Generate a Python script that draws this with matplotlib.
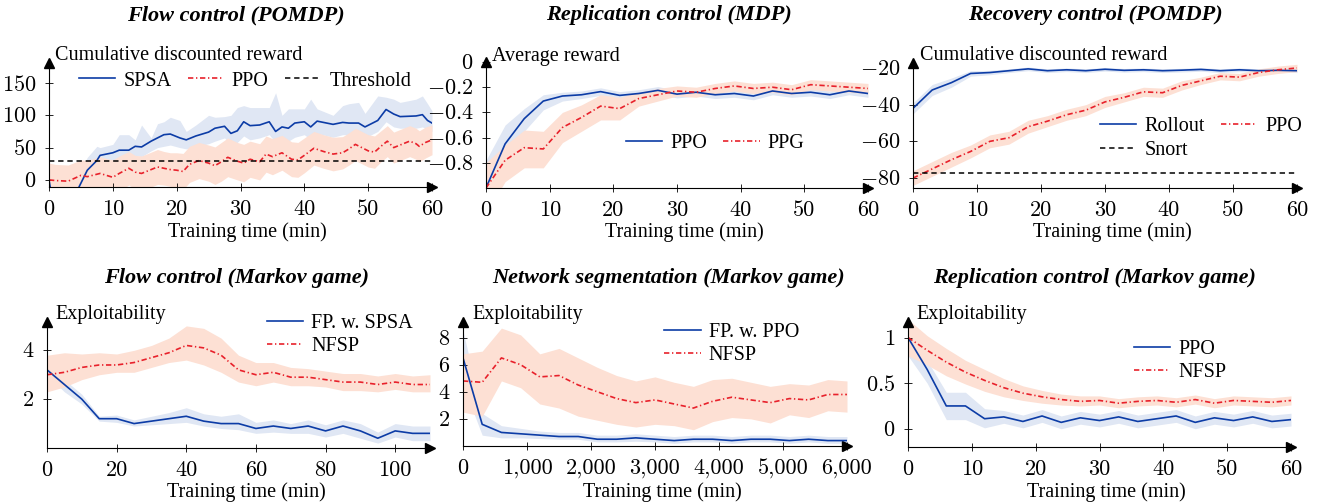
import matplotlib
matplotlib.use("Agg")
import numpy as np
import matplotlib.pyplot as plt
from matplotlib.ticker import FuncFormatter

plt.rcParams['font.family'] = ['Liberation Serif', 'DejaVu Serif']
plt.rcParams['mathtext.fontset'] = 'cm'

# ---------------- data ----------------
# Flow control (POMDP)
spsa_x = [0, 1, 3, 4.7, 6, 7.5, 8, 10, 11, 12.5, 13.5, 14.5, 16, 17, 18, 19, 20.5, 21.5, 23, 25,
          26, 27.5, 28.5, 29.5, 30.5, 31.5, 33, 34.5, 35.5, 36.5, 37.5, 38.5, 40, 41, 42, 44.5,
          46, 47, 48.5, 49.5, 51.5, 52.8, 54, 55, 57.5, 58.5, 59.3, 60]
spsa_y = [0, -60, -45, -11, 15, 30, 38, 42, 46, 46, 52, 51, 60, 65, 70, 71, 65, 62, 68, 74,
          80, 83, 72, 76, 90, 84, 85, 90, 75, 82, 80, 88, 90, 82, 91, 86, 89, 88, 88, 82,
          92, 109, 102, 98, 99, 101, 92, 88]
spsa_hi = [25, -30, -20, 10, 35, 52, 50, 55, 70, 70, 62, 85, 65, 87, 90, 97, 92, 75, 85, 100,
           97, 98, 100, 112, 115, 112, 112, 112, 135, 100, 110, 110, 110, 125, 110, 100, 115,
           118, 120, 103, 130, 128, 125, 120, 125, 130, 118, 107]
spsa_lo = [-25, -90, -75, -35, -5, 10, 22, 28, 30, 32, 38, 36, 45, 50, 52, 54, 50, 48, 52, 56,
           60, 65, 55, 58, 68, 62, 65, 70, 58, 62, 60, 66, 70, 62, 72, 66, 70, 70, 70, 65,
           75, 90, 82, 80, 80, 82, 78, 75]
fc_ppo_x = [0, 1, 3, 5, 6, 8, 9, 10, 11, 12.5, 13.5, 14.5, 16, 17, 18, 19, 20, 21, 22, 23.5,
            25, 26, 27, 28, 29.5, 30.5, 31.5, 33, 34, 35, 36.5, 38, 39, 40, 41.5, 43, 44.5,
            46, 47, 48, 49, 50, 51, 52, 53, 54, 55, 56.5, 57.5, 58, 59, 60]
fc_ppo_y = [0, -1, -2, 7, 5, 10, 7, 4, 10, 18, 12, 10, 16, 20, 18, 16, 15, 13, 24, 30,
            26, 22, 28, 35, 29, 26, 32, 28, 40, 36, 42, 32, 31, 38, 49, 44, 40, 42, 48, 55,
            50, 45, 43, 52, 60, 50, 54, 60, 56, 52, 58, 62]
fc_ppo_spread = [26, 25, 25, 24, 25, 26, 26, 27, 27, 26, 26, 27, 27, 27, 26, 26, 27, 28, 28, 28,
                 28, 29, 30, 30, 29, 29, 28, 28, 28, 28, 27, 27, 27, 27, 26, 26, 26, 25, 25, 25,
                 25, 25, 25, 24, 24, 24, 24, 24, 24, 24, 24, 23]
threshold = 30

# Replication control (MDP)
t3 = [0, 3, 6, 9, 12, 15, 18, 21, 24, 27, 30, 33, 36, 39, 42, 45, 48, 51, 54, 57, 60]
rep_ppo = [-1.0, -0.65, -0.45, -0.31, -0.27, -0.26, -0.235, -0.265, -0.25, -0.225, -0.255,
           -0.24, -0.26, -0.25, -0.27, -0.23, -0.25, -0.24, -0.26, -0.23, -0.25]
rep_ppo_lo = [-1.2, -0.8, -0.55, -0.38, -0.31, -0.29, -0.265, -0.295, -0.28, -0.255, -0.285,
              -0.27, -0.29, -0.28, -0.3, -0.26, -0.28, -0.27, -0.29, -0.26, -0.28]
rep_ppo_hi = [-0.78, -0.5, -0.37, -0.26, -0.24, -0.23, -0.205, -0.235, -0.22, -0.195, -0.225,
              -0.21, -0.23, -0.22, -0.24, -0.2, -0.22, -0.21, -0.23, -0.2, -0.22]
rep_ppg = [-1.0, -0.78, -0.68, -0.69, -0.52, -0.44, -0.35, -0.37, -0.29, -0.26, -0.23, -0.24,
           -0.21, -0.19, -0.21, -0.2, -0.22, -0.18, -0.19, -0.2, -0.21]
rep_ppg_lo = [-1.2, -0.95, -0.84, -0.84, -0.64, -0.55, -0.46, -0.46, -0.35, -0.31, -0.27,
              -0.28, -0.25, -0.23, -0.25, -0.24, -0.26, -0.22, -0.23, -0.24, -0.25]
rep_ppg_hi = [-0.8, -0.66, -0.54, -0.55, -0.4, -0.34, -0.26, -0.28, -0.24, -0.21, -0.19, -0.2,
              -0.17, -0.15, -0.17, -0.16, -0.18, -0.14, -0.15, -0.16, -0.17]

# Recovery control (POMDP)
rec_rollout = [-42, -32, -28, -23, -22.5, -21.5, -20.5, -21.5, -21, -21.5, -20.7, -21.3, -21,
               -21.5, -21.2, -20.8, -21.5, -21, -21.5, -21.3, -21.5]
rec_rollout_lo = [-45, -35, -30.5, -24.5, -23.7, -22.5, -21.5, -22.5, -22, -22.5, -21.7, -22.3,
                  -22, -22.5, -22.2, -21.8, -22.5, -22, -22.5, -22.3, -22.5]
rec_rollout_hi = [-39, -29, -25.5, -21.5, -21.3, -20.5, -19.5, -20.5, -20, -20.5, -19.7, -20.3,
                  -20, -20.5, -20.2, -19.8, -20.5, -20, -20.5, -20.3, -20.5]
rec_ppo = [-80, -75, -70, -65.5, -60, -58, -52, -49, -45.5, -43, -38.5, -36, -33, -33.5, -29.5,
           -27, -24.5, -25, -22.5, -21, -20]
rec_ppo_lo = [-84, -79, -74, -69, -63.5, -61.5, -55.5, -52, -48.5, -46, -41.5, -38.5, -35.5,
              -36, -32, -29, -26.5, -27, -24.5, -23, -22]
rec_ppo_hi = [-76, -71, -66, -62, -56.5, -54.5, -48.5, -46, -42.5, -40, -35.5, -33.5, -30.5,
              -31, -27, -25, -22.5, -23, -20.5, -19, -18]
snort = -77

# Flow control (Markov game)
t5 = [0, 5, 10, 15, 20, 25, 30, 35, 40, 45, 50, 55, 60, 65, 70, 75, 80, 85, 90, 95, 100, 105, 110]
fg_fp = [3.2, 2.6, 2.0, 1.2, 1.2, 1.0, 1.1, 1.2, 1.3, 1.1, 1.0, 1.0, 0.8, 0.9, 0.8, 0.9, 0.7,
         0.9, 0.7, 0.4, 0.7, 0.6, 0.6]
fg_fp_lo = [3.0, 2.3, 1.8, 1.1, 1.05, 0.9, 0.95, 1.0, 1.05, 0.9, 0.8, 0.75, 0.6, 0.65, 0.6,
            0.6, 0.45, 0.6, 0.4, 0.2, 0.45, 0.3, 0.3]
fg_fp_hi = [3.4, 2.8, 2.2, 1.3, 1.35, 1.15, 1.3, 1.45, 1.65, 1.4, 1.3, 1.4, 1.05, 1.15, 1.0,
            1.15, 0.95, 1.15, 1.0, 0.65, 1.0, 0.9, 0.9]
fg_nfsp = [3.0, 3.1, 3.3, 3.4, 3.4, 3.5, 3.7, 3.9, 4.2, 4.1, 3.8, 3.2, 3.0, 3.1, 2.9, 2.9, 2.8,
           2.7, 2.7, 2.6, 2.7, 2.6, 2.6]
fg_nfsp_lo = [2.3, 2.5, 2.8, 3.0, 3.1, 3.1, 3.3, 3.5, 3.6, 3.4, 3.1, 2.7, 2.55, 2.7, 2.55,
              2.55, 2.5, 2.35, 2.35, 2.3, 2.4, 2.3, 2.3]
fg_nfsp_hi = [3.8, 3.9, 3.85, 3.9, 3.85, 4.0, 4.2, 4.5, 5.0, 4.9, 4.5, 3.8, 3.5, 3.5, 3.3,
              3.25, 3.15, 3.05, 3.05, 2.95, 3.05, 2.95, 3.0]

# Network segmentation (Markov game)
t300 = [0, 300, 600, 900, 1200, 1500, 1800, 2100, 2400, 2700, 3000, 3300, 3600, 3900, 4200,
        4500, 4800, 5100, 5400, 5700, 6000]
ns_fp = [6.5, 1.6, 1.0, 0.9, 0.8, 0.7, 0.7, 0.5, 0.5, 0.6, 0.5, 0.4, 0.5, 0.5, 0.4, 0.5, 0.5,
         0.4, 0.5, 0.4, 0.4]
ns_fp_lo = [4.5, 0.8, 0.6, 0.6, 0.55, 0.5, 0.5, 0.3, 0.3, 0.35, 0.3, 0.2, 0.3, 0.3, 0.2, 0.3,
            0.3, 0.2, 0.3, 0.2, 0.2]
ns_fp_hi = [8.5, 2.4, 1.5, 1.3, 1.1, 1.0, 1.0, 0.8, 0.8, 0.9, 0.8, 0.7, 0.8, 0.8, 0.7, 0.8,
            0.8, 0.7, 0.8, 0.7, 0.7]
ns_nfsp = [4.8, 4.7, 6.5, 6.0, 5.1, 5.2, 4.5, 4.0, 3.5, 3.2, 3.4, 3.1, 2.8, 3.3, 3.6, 3.4, 3.2,
           3.5, 3.4, 3.8, 3.8]
ns_nfsp_lo = [2.5, 2.2, 4.8, 4.3, 3.1, 2.8, 2.2, 1.9, 1.6, 1.4, 1.6, 1.5, 1.2, 1.8, 2.1, 2.0,
              1.7, 2.3, 2.1, 2.6, 2.5]
ns_nfsp_hi = [6.8, 7.0, 8.7, 8.2, 6.8, 7.2, 6.5, 5.8, 5.2, 4.8, 5.1, 4.7, 4.4, 4.9, 5.0, 4.7,
              4.4, 4.6, 4.5, 4.9, 4.8]

# Replication control (Markov game)
rm_ppo = [1.0, 0.65, 0.25, 0.25, 0.11, 0.13, 0.08, 0.14, 0.07, 0.12, 0.09, 0.13, 0.08, 0.11,
          0.14, 0.07, 0.12, 0.09, 0.13, 0.08, 0.1]
rm_ppo_lo = [0.8, 0.5, 0.1, 0.1, 0.01, 0.06, 0.01, 0.07, 0.0, 0.05, 0.02, 0.06, 0.01, 0.04,
             0.07, 0.0, 0.05, 0.02, 0.06, 0.01, 0.03]
rm_ppo_hi = [1.0, 0.75, 0.4, 0.4, 0.22, 0.2, 0.15, 0.21, 0.14, 0.19, 0.16, 0.2, 0.15, 0.18,
             0.21, 0.14, 0.19, 0.16, 0.2, 0.15, 0.17]
rm_nfsp = [1.0, 0.86, 0.73, 0.62, 0.53, 0.45, 0.39, 0.35, 0.32, 0.3, 0.31, 0.28, 0.3, 0.31,
           0.29, 0.32, 0.28, 0.31, 0.3, 0.29, 0.31]
rm_nfsp_lo = [0.8, 0.7, 0.58, 0.49, 0.41, 0.35, 0.31, 0.28, 0.26, 0.25, 0.26, 0.23, 0.25, 0.26,
              0.24, 0.27, 0.23, 0.26, 0.25, 0.24, 0.26]
rm_nfsp_hi = [1.2, 1.02, 0.88, 0.75, 0.65, 0.55, 0.47, 0.42, 0.38, 0.36, 0.36, 0.33, 0.35,
              0.36, 0.34, 0.37, 0.33, 0.36, 0.35, 0.34, 0.36]

# ---------------- style ----------------
BLUE = '#0c3ca6'
RED = '#e8212b'
BLUE_BAND = '#e0e7f4'
RED_BAND = '#fde0d4'
DASHDOT = (0, (3.2, 1.6, 0.8, 1.6))
DASHED = (0, (3.5, 2.5))
FS = 14.5
TICK_FS = 16

W, H = 1320, 503
fig = plt.figure(figsize=(W / 100, H / 100), dpi=100)


def add_panel(x0, x1, y0, y1, xlim, ylim, xticks, yticks, comma=False):
    ax = fig.add_axes([x0 / W, 1 - y1 / H, (x1 - x0) / W, (y1 - y0) / H])
    ax.set_xlim(xlim)
    ax.set_ylim(ylim)
    ax.spines['top'].set_visible(False)
    ax.spines['right'].set_visible(False)
    for s in ('left', 'bottom'):
        ax.spines[s].set_linewidth(0.8)
    # x tick labels in Computer Modern (no minus signs needed there)
    xlabels = [f'{int(v):,}' if comma else f'{v:g}' for v in xticks]
    ax.set_xticks(xticks, labels=xlabels, fontfamily='cmr10')
    ax.set_yticks(yticks)
    ax.yaxis.set_major_formatter(FuncFormatter(lambda v, p: f'${v:g}$'))
    ax.tick_params(direction='inout', length=6, width=0.6, labelsize=TICK_FS, pad=6)
    ax.plot(1, 0, marker='>', color='k', ms=7, transform=ax.transAxes, clip_on=False)
    ax.plot(0, 1, marker='^', color='k', ms=7, transform=ax.transAxes, clip_on=False)
    return ax


def ftext(x, y, s, **kw):
    fig.text(x / W, 1 - y / H, s, **kw)


def title(x, y, s):
    ftext(x, y, s, ha='center', va='center', fontsize=16, fontweight='bold', fontstyle='italic')


def legend(ax, handles, labels, cx, cy, ncol=1, cs=0.8):
    ax.legend(handles, labels, loc='center', bbox_to_anchor=(cx, cy), ncol=ncol, frameon=False,
              fontsize=FS, handlelength=1.8, handletextpad=0.4, columnspacing=cs,
              labelspacing=0.2, borderpad=0, borderaxespad=0)


# Panel 1: Flow control (POMDP)
ax = add_panel(49, 432, 63, 187, (0, 60), (-11, 181), [0, 10, 20, 30, 40, 50, 60], [0, 50, 100, 150])
ax.fill_between(spsa_x, spsa_lo, spsa_hi, color=BLUE_BAND, lw=0)
y = np.array(fc_ppo_y)
s = np.array(fc_ppo_spread)
ax.fill_between(fc_ppo_x, y - s, y + s, color=RED_BAND, lw=0)
l1, = ax.plot(spsa_x, spsa_y, color=BLUE, lw=1.2)
l2, = ax.plot(fc_ppo_x, fc_ppo_y, color=RED, lw=1.2, ls=DASHDOT)
l3 = ax.axhline(threshold, color='k', lw=1.1, ls=DASHED)
legend(ax, [l1, l2, l3], ['SPSA', 'PPO', 'Threshold'], 0.512, 0.855, ncol=3)
title(236, 15, 'Flow control (POMDP)')
ftext(55, 56, 'Cumulative discounted reward', ha='left', va='center', fontsize=FS)
ftext(247, 232, 'Training time (min)', ha='center', va='center', fontsize=FS)

# Panel 2: Replication control (MDP)
ax = add_panel(486, 868, 62, 188, (0, 60), (-1.0, 0.0), [0, 10, 20, 30, 40, 50, 60],
               [-0.8, -0.6, -0.4, -0.2, 0])
ax.fill_between(t3, rep_ppo_lo, rep_ppo_hi, color=BLUE_BAND, lw=0)
ax.fill_between(t3, rep_ppg_lo, rep_ppg_hi, color=RED_BAND, lw=0)
l1, = ax.plot(t3, rep_ppo, color=BLUE, lw=1.2)
l2, = ax.plot(t3, rep_ppg, color=RED, lw=1.2, ls=DASHDOT)
legend(ax, [l1, l2], ['PPO', 'PPG'], 0.60, 0.357, ncol=2)
title(669, 15, 'Replication control (MDP)')
ftext(492, 56, 'Average reward', ha='left', va='center', fontsize=FS)
ftext(684, 232, 'Training time (min)', ha='center', va='center', fontsize=FS)

# Panel 3: Recovery control (POMDP)
ax = add_panel(913, 1297, 63, 188, (0, 60), (-85.4, -17.3), [0, 10, 20, 30, 40, 50, 60],
               [-80, -60, -40, -20])
ax.fill_between(t3, rec_rollout_lo, rec_rollout_hi, color=BLUE_BAND, lw=0)
ax.fill_between(t3, rec_ppo_lo, rec_ppo_hi, color=RED_BAND, lw=0)
l1, = ax.plot(t3, rec_rollout, color=BLUE, lw=1.2)
l2, = ax.plot(t3, rec_ppo, color=RED, lw=1.2, ls=DASHDOT)
l3 = ax.axhline(snort, color='k', lw=1.1, ls=DASHED)
legend(ax, [l1, l3, l2], ['Rollout', 'Snort', 'PPO'], 0.75, 0.396, ncol=2)
title(1095, 15, 'Recovery control (POMDP)')
ftext(920, 56, 'Cumulative discounted reward', ha='left', va='center', fontsize=FS)
ftext(1112, 232, 'Training time (min)', ha='center', va='center', fontsize=FS)

# Panel 4: Flow control (Markov game)
ax = add_panel(47, 430, 322, 448, (0, 110), (0, 5.16), [0, 20, 40, 60, 80, 100], [2, 4])
ax.fill_between(t5, fg_fp_lo, fg_fp_hi, color=BLUE_BAND, lw=0)
ax.fill_between(t5, fg_nfsp_lo, fg_nfsp_hi, color=RED_BAND, lw=0)
l1, = ax.plot(t5, fg_fp, color=BLUE, lw=1.2)
l2, = ax.plot(t5, fg_nfsp, color=RED, lw=1.2, ls=DASHDOT)
legend(ax, [l1, l2], ['FP. w. SPSA', 'NFSP'], 0.765, 0.90)
title(237, 278, 'Flow control (Markov game)')
ftext(55, 314, 'Exploitability', ha='left', va='center', fontsize=FS)
ftext(246, 492, 'Training time (min)', ha='center', va='center', fontsize=FS)

# Panel 5: Network segmentation (Markov game)
ax = add_panel(463, 847, 322, 446, (0, 6000), (0, 9.15),
               [0, 1000, 2000, 3000, 4000, 5000, 6000], [2, 4, 6, 8], comma=True)
ax.fill_between(t300, ns_fp_lo, ns_fp_hi, color=BLUE_BAND, lw=0)
ax.fill_between(t300, ns_nfsp_lo, ns_nfsp_hi, color=RED_BAND, lw=0)
l1, = ax.plot(t300, ns_fp, color=BLUE, lw=1.2)
l2, = ax.plot(t300, ns_nfsp, color=RED, lw=1.2, ls=DASHDOT)
legend(ax, [l1, l2], ['FP. w. PPO', 'NFSP'], 0.70, 0.82)
title(669, 278, 'Network segmentation (Markov game)')
ftext(472, 314, 'Exploitability', ha='left', va='center', fontsize=FS)
ftext(662, 492, 'Training time (min)', ha='center', va='center', fontsize=FS)

# Panel 6: Replication control (Markov game)
ax = add_panel(908, 1291, 322, 447, (0, 60), (-0.2, 1.17), [0, 10, 20, 30, 40, 50, 60],
               [0, 0.5, 1])
ax.fill_between(t3, rm_ppo_lo, rm_ppo_hi, color=BLUE_BAND, lw=0)
ax.fill_between(t3, rm_nfsp_lo, rm_nfsp_hi, color=RED_BAND, lw=0)
l1, = ax.plot(t3, rm_ppo, color=BLUE, lw=1.2)
l2, = ax.plot(t3, rm_nfsp, color=RED, lw=1.2, ls=DASHDOT)
legend(ax, [l1, l2], ['PPO', 'NFSP'], 0.71, 0.69)
title(1094, 278, 'Replication control (Markov game)')
ftext(916, 314, 'Exploitability', ha='left', va='center', fontsize=FS)
ftext(1106, 492, 'Training time (min)', ha='center', va='center', fontsize=FS)

fig.savefig('out.png', dpi=100)
